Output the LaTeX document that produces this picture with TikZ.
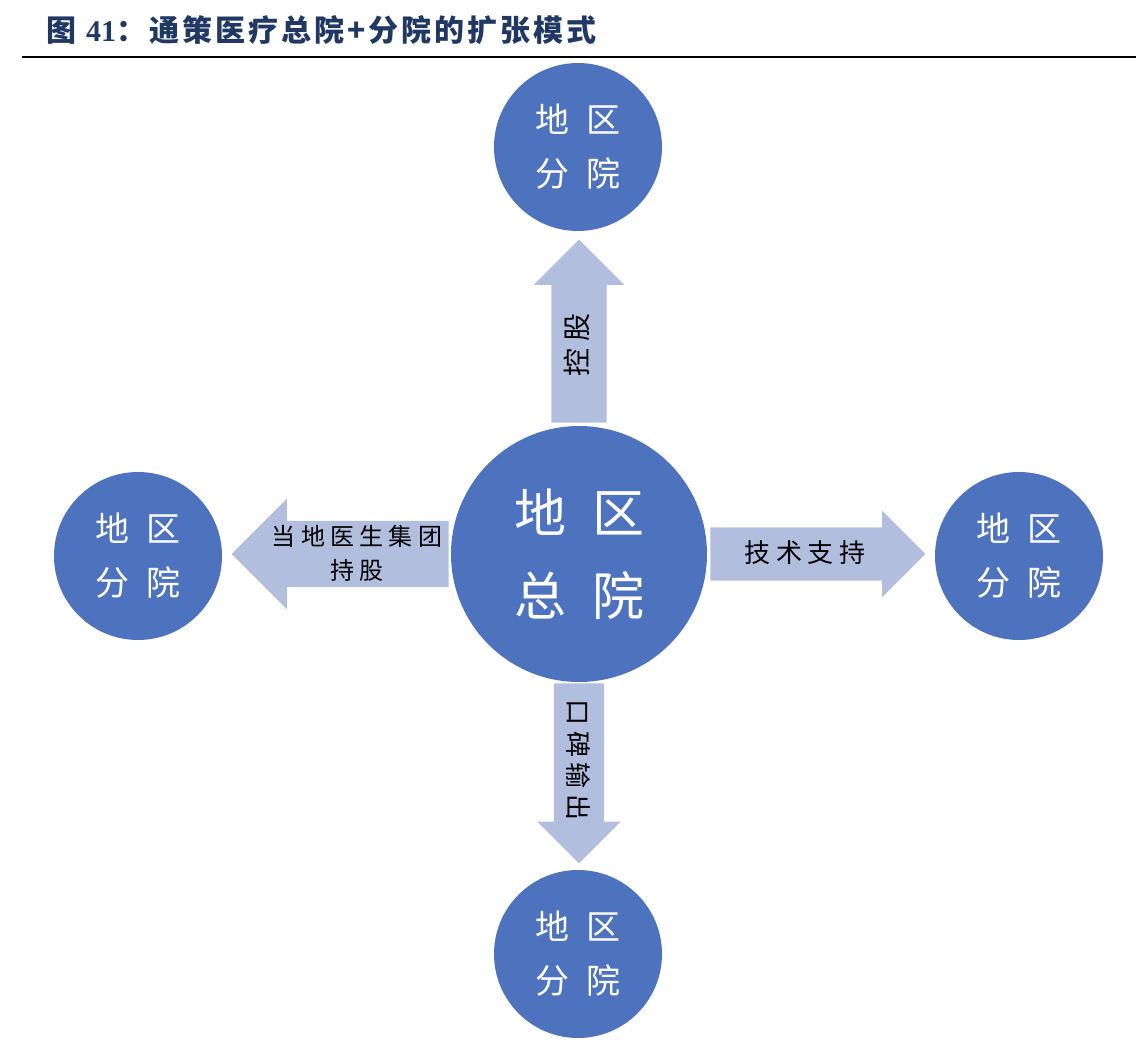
\documentclass[tikz,border=0pt]{standalone}
\usepackage{fontspec}
\setmainfont{Liberation Serif}
\newfontfamily\cjk[LetterSpace=10]{Noto Sans CJK SC}
\newfontfamily\cjkwide[LetterSpace=50]{Noto Sans CJK SC}
\newfontfamily\cjkarrow[LetterSpace=22]{Noto Sans CJK SC}
\usetikzlibrary{shapes.arrows, positioning}
\definecolor{hubblue}{RGB}{78,115,190}
\definecolor{flowblue}{RGB}{177,190,222}
\definecolor{titleblue}{RGB}{31,56,100}

\tikzset{
  hub/.style={circle, fill=hubblue, text=white, inner sep=0pt, align=center},
  branch/.style={hub, minimum size=168pt, font=\cjkwide\fontsize{34}{54}\selectfont},
  flow/.style={single arrow, fill=flowblue, draw=none, inner xsep=0pt, single arrow tip angle=90},
  flowtext/.style={font=\cjkarrow\fontsize{24}{34}\selectfont, align=center, inner sep=0pt},
}

\begin{document}
\begin{tikzpicture}[x=1pt, y=-1pt]
\useasboundingbox (0,0) rectangle (1138,1046);

% title and rule
\node[anchor=west, text=titleblue, inner sep=0pt, font=\cjk\bfseries\fontsize{30}{34}\selectfont] (title) at (46,30) {图 {\rmfamily 41}：通策医疗总院+分院的扩张模式};
\draw[line width=2.5pt] (22,57) -- (1136,57);

% circles
\node[hub, minimum size=256pt, font=\cjkwide\fontsize{52}{83}\selectfont] (hq) at (579,554) {地区\\总院};
\node[branch] (north) at (578,147) {地区\\分院};
\node[branch] (west) at (138,556) {地区\\分院};
\node[branch] (east) at (1019,556) {地区\\分院};
\node[branch] (south) at (578,954) {地区\\分院};

% block arrows
\node[flow, rotate=90, anchor=tail, minimum height=183pt, inner ysep=27.5pt, single arrow head extend=17.5pt] (ctrl) at ([yshift=3pt]hq.north) {};
\node[flow, rotate=180, anchor=tail, minimum height=217pt, inner ysep=33pt, single arrow head extend=22pt] (hold) at ([xshift=-2pt]hq.west) {};
\node[flow, anchor=tail, minimum height=215pt, inner ysep=26.5pt, single arrow head extend=16.5pt] (tech) at ([xshift=3pt]hq.east) {};
\node[flow, rotate=-90, anchor=tail, minimum height=180pt, inner ysep=25pt, single arrow head extend=16.5pt] (brand) at ([yshift=-1pt]hq.south) {};

% arrow labels
\node[flowtext, rotate=90, font=\cjkarrow\fontsize{28}{34}\selectfont] (ctrltext) at (577,345) {控股};
\node[flowtext] (holdtext) at (357,553) {当地医生集团\\持股};
\node[flowtext, font=\cjkarrow\fontsize{26}{34}\selectfont] (techtext) at (805,553) {技术支持};
\node[flowtext, rotate=-90, font=\cjkarrow\fontsize{26}{34}\selectfont] (brandtext) at (578,760) {口碑输出};
\end{tikzpicture}
\end{document}
